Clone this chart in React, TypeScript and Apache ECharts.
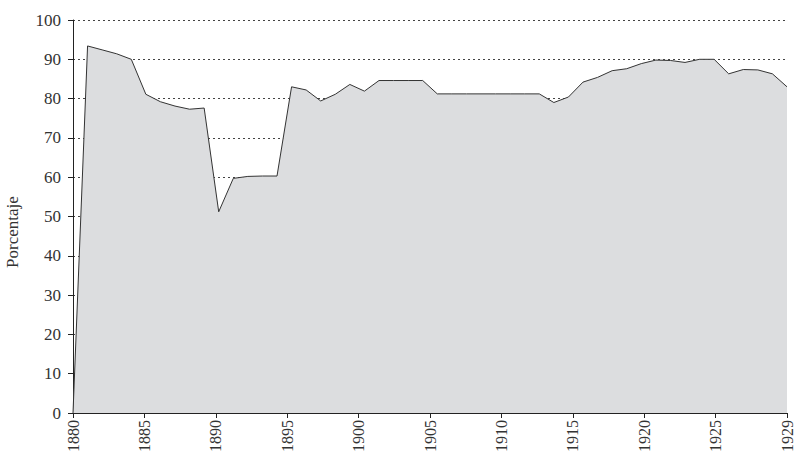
import React, { useEffect, useRef } from "react";
import * as echarts from "echarts";

const years: string[] = [
  "1880","1881","1882","1883","1884","1885","1886","1887","1888","1889",
  "1890","1891","1892","1893","1894","1895","1896","1897","1898","1899",
  "1900","1901","1902","1903","1904","1905","1906","1907","1908","1909",
  "1910","1911","1912","1913","1914","1915","1916","1917","1918","1919",
  "1920","1921","1922","1923","1924","1925","1926","1927","1928","1929",
];

const percentages: number[] = [
  0, 93.4, 92.4, 91.4, 90.0, 81.1, 79.2, 78.1, 77.3, 77.6,
  51.2, 59.7, 60.2, 60.3, 60.3, 83.0, 82.2, 79.4, 81.1, 83.6,
  81.9, 84.6, 84.6, 84.6, 84.6, 81.2, 81.2, 81.2, 81.2, 81.2,
  81.2, 81.2, 81.2, 79.0, 80.4, 84.2, 85.4, 87.1, 87.6, 88.9,
  89.8, 89.7, 89.2, 90.0, 90.0, 86.3, 87.4, 87.3, 86.3, 83.0,
];

const tickLabels: string[] = [
  "1880", "1885", "1890", "1895", "1900", "1905", "1910", "1915", "1920", "1925", "1929",
];

const yAxisTitle = "Porcentaje";

const FONT = "'Liberation Serif', 'DejaVu Serif', serif";
const TEXT = "#333333";

export default function App() {
  const ref = useRef<HTMLDivElement>(null);

  useEffect(() => {
    if (!ref.current) return;
    const chart = echarts.init(ref.current, undefined, { renderer: "svg" });
    chart.setOption({
      animation: false,
      backgroundColor: "#ffffff",
      textStyle: { fontFamily: FONT },
      grid: { left: 73, right: 7, top: 20, bottom: 48, containLabel: false },
      xAxis: [
        {
          type: "category",
          data: years,
          boundaryGap: false,
          axisLine: { show: true, lineStyle: { color: "#222", width: 1 } },
          axisTick: { show: false },
          axisLabel: { show: false },
          splitLine: { show: false },
        },
        {
          type: "category",
          data: tickLabels,
          boundaryGap: false,
          position: "bottom",
          axisLine: { show: false },
          axisTick: { show: true, interval: 0, length: 5, lineStyle: { color: "#222" } },
          axisLabel: {
            interval: 0,
            rotate: 90,
            margin: 7,
            fontSize: 16,
            color: TEXT,
            fontFamily: FONT,
          },
          splitLine: { show: false },
        },
      ],
      yAxis: {
        type: "value",
        min: 0,
        max: 100,
        interval: 10,
        axisLine: { show: true, lineStyle: { color: "#222", width: 1 } },
        axisTick: { show: true, length: 5, lineStyle: { color: "#222" } },
        axisLabel: { margin: 12, fontSize: 17, color: TEXT, fontFamily: FONT },
        splitLine: {
          show: true,
          lineStyle: { color: "#444", width: 1, type: [2, 3] },
        },
      },
      graphic: [
        {
          type: "text",
          x: 12,
          y: 232,
          rotation: Math.PI / 2,
          style: {
            text: yAxisTitle,
            fontSize: 17,
            fontFamily: FONT,
            fill: TEXT,
            align: "center",
            verticalAlign: "middle",
          },
        },
      ],
      series: [
        {
          type: "line",
          xAxisIndex: 0,
          data: percentages,
          showSymbol: false,
          symbol: "none",
          lineStyle: { color: "#333", width: 1 },
          areaStyle: { color: "#dcdddf", opacity: 1 },
          z: 3,
        },
      ],
    });
    return () => chart.dispose();
  }, []);

  return (
    <div
      ref={ref}
      style={{ position: "fixed", left: 0, top: 0, width: 795, height: 461 }}
    />
  );
}
